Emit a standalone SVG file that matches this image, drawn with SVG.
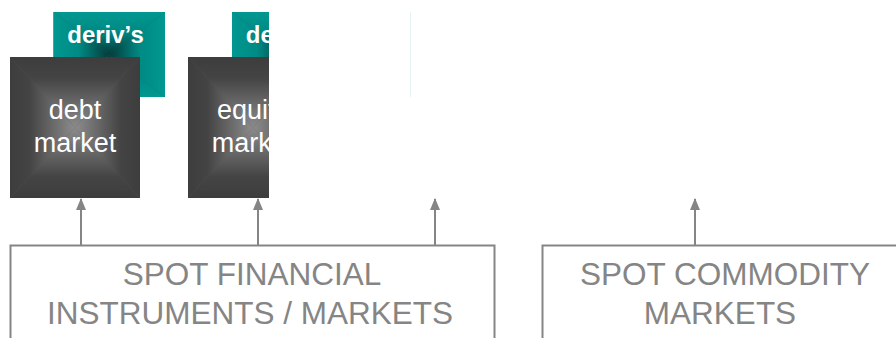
<svg xmlns="http://www.w3.org/2000/svg" width="896" height="338" viewBox="0 0 896 338">
<style>
.box{fill:#fff;stroke:#858585;stroke-width:2}
.spot{font-family:"Liberation Sans",Arial,sans-serif;font-size:31.5px;fill:#858585;text-anchor:middle}
.mkt{font-family:"Liberation Sans",Arial,sans-serif;font-size:27px;fill:#fff;text-anchor:middle}
.drv{font-family:"Liberation Sans",Arial,sans-serif;font-size:24px;font-weight:bold;fill:#fff;text-anchor:middle}
.conn{stroke:#858585;stroke-width:2;fill:none;marker-end:url(#ah)}
</style>
<defs>
<linearGradient id="dT" x1="0" y1="0" x2="0" y2="1">
<stop offset="0" stop-color="#3d3d3d"/><stop offset="0.3" stop-color="#444"/><stop offset="1" stop-color="#8c8c8c"/>
</linearGradient>
<linearGradient id="dB" href="#dT" x1="0" y1="1" x2="0" y2="0"/>
<linearGradient id="dL" href="#dT" x1="0" y1="0" x2="1" y2="0"/>
<linearGradient id="dR" href="#dT" x1="1" y1="0" x2="0" y2="0"/>
<linearGradient id="tT" x1="0" y1="0" x2="0" y2="1">
<stop offset="0" stop-color="#009891"/><stop offset="0.45" stop-color="#008a84"/><stop offset="1" stop-color="#063a39"/>
</linearGradient>
<linearGradient id="tB" href="#tT" x1="0" y1="1" x2="0" y2="0"/>
<linearGradient id="tL" href="#tT" x1="0" y1="0" x2="1" y2="0"/>
<linearGradient id="tR" href="#tT" x1="1" y1="0" x2="0" y2="0"/>
<marker id="ah" viewBox="0 0 12 10" refX="11" refY="5" markerWidth="12" markerHeight="10" markerUnits="userSpaceOnUse" orient="auto">
<path d="M0,0 L12,5 L0,10 Z" fill="#858585"/>
</marker>
<clipPath id="clip2"><rect x="0" y="0" width="269" height="338"/></clipPath>
</defs>
<g id="debt">
<g id="debt-deriv">
<rect x="53.5" y="12" width="111.5" height="85" fill="#04706c"/>
<polygon points="53.5,12 165,12 109.25,54.5" fill="url(#tT)"/>
<polygon points="53.5,97 165,97 109.25,54.5" fill="url(#tB)"/>
<polygon points="53.5,12 53.5,97 109.25,54.5" fill="url(#tL)"/>
<polygon points="165,12 165,97 109.25,54.5" fill="url(#tR)"/>
<text class="drv" x="105.5" y="43">deriv’s</text>
</g>
<g id="debt-market">
<rect x="10" y="57" width="130" height="141" fill="#555"/>
<polygon points="10,57 140,57 75,127.5" fill="url(#dT)"/>
<polygon points="10,198 140,198 75,127.5" fill="url(#dB)"/>
<polygon points="10,57 10,198 75,127.5" fill="url(#dL)"/>
<polygon points="140,57 140,198 75,127.5" fill="url(#dR)"/>
<text class="mkt" x="75" y="119">debt</text>
<text class="mkt" x="75" y="152">market</text>
</g>
</g>
<g id="equity" clip-path="url(#clip2)">
<g id="equity-deriv">
<rect x="232" y="12" width="111.5" height="85" fill="#04706c"/>
<polygon points="232,12 343.5,12 287.75,54.5" fill="url(#tT)"/>
<polygon points="232,97 343.5,97 287.75,54.5" fill="url(#tB)"/>
<polygon points="232,12 232,97 287.75,54.5" fill="url(#tL)"/>
<polygon points="343.5,12 343.5,97 287.75,54.5" fill="url(#tR)"/>
<text class="drv" x="284" y="43">deriv’s</text>
</g>
<g id="equity-market">
<rect x="188" y="57" width="130" height="141" fill="#555"/>
<polygon points="188,57 318,57 253,127.5" fill="url(#dT)"/>
<polygon points="188,198 318,198 253,127.5" fill="url(#dB)"/>
<polygon points="188,57 188,198 253,127.5" fill="url(#dL)"/>
<polygon points="318,57 318,198 253,127.5" fill="url(#dR)"/>
<text class="mkt" x="253" y="119">equity</text>
<text class="mkt" x="253" y="152">market</text>
</g>
</g>
<g id="faint">
<line x1="410.5" y1="12" x2="410.5" y2="97" stroke="#e3f4f2" stroke-width="1"/>
</g>
<g id="spot-fin">
<rect class="box" x="10.5" y="245.5" width="484" height="110"/>
<text class="spot" x="252" y="285">SPOT FINANCIAL</text>
<text class="spot" x="250" y="323.5">INSTRUMENTS / MARKETS</text>
</g>
<g id="spot-com">
<rect class="box" x="542.5" y="245.5" width="380" height="110"/>
<text class="spot" x="725" y="285">SPOT COMMODITY</text>
<text class="spot" x="720" y="323.5">MARKETS</text>
</g>
<g id="connectors">
<path class="conn" d="M81,245 V199"/>
<path class="conn" d="M258,245 V199"/>
<path class="conn" d="M435,245 V199"/>
<path class="conn" d="M695,245 V199"/>
</g>
</svg>
